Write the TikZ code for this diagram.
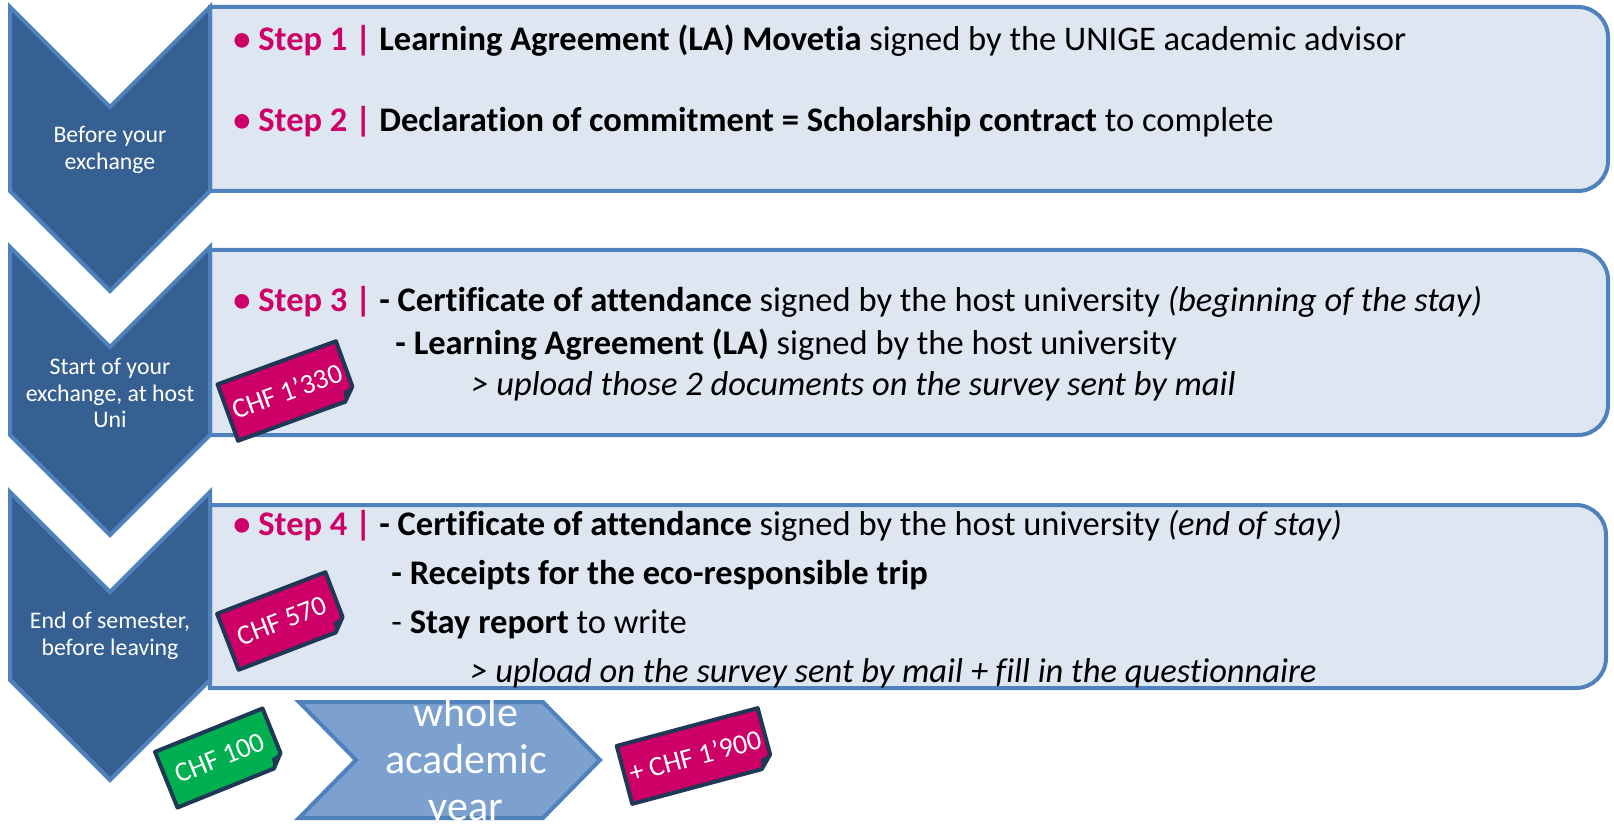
\documentclass[tikz,border=0pt]{standalone}
\usepackage{fontspec}
\setmainfont{Carlito}[Ligatures=NoCommon]

\definecolor{chevdark}{RGB}{54,96,146}
\definecolor{chevlight}{RGB}{124,161,206}
\definecolor{edgeblue}{RGB}{79,129,189}
\definecolor{boxfill}{RGB}{222,230,241}
\definecolor{steppink}{RGB}{204,0,102}
\definecolor{tagnavy}{RGB}{31,56,86}
\definecolor{taggreen}{RGB}{0,176,80}

\newcommand{\steplabel}[1]{\textcolor{steppink}{\textbf{• Step #1 |}}}

\begin{document}
\begin{tikzpicture}[x=0.5pt, y=-0.5pt,
  chevron/.style={fill=chevdark, draw=edgeblue, line width=2pt},
  stepbox/.style={fill=boxfill, draw=edgeblue, line width=2pt},
  phase/.style={text=white, align=center, inner sep=0pt, font=\fontsize{11.9}{13.3}\selectfont},
  textline/.style={anchor=base west, inner sep=0pt, font=\fontsize{17.25}{20}\selectfont},
  tagshape/.style={draw=tagnavy, line width=2pt, line join=round},
  tagtext/.style={text=white, inner sep=0pt, transform shape, font=\fontsize{14}{16}\selectfont}]
  \useasboundingbox (0,0) rectangle (1614,824);

  % step boxes, square on the left and rounded on the right
  \draw[stepbox] (210,7) -- (1578,7) arc[start angle=-90, end angle=0, radius=30]
    -- (1608,161) arc[start angle=0, end angle=90, radius=30] -- (210,191) -- cycle;
  \draw[stepbox] (210,250) -- (1578,250) arc[start angle=-90, end angle=0, radius=30]
    -- (1608,405) arc[start angle=0, end angle=90, radius=30] -- (210,435) -- cycle;
  \draw[stepbox] (210,505) -- (1576,505) arc[start angle=-90, end angle=0, radius=30]
    -- (1606,658) arc[start angle=0, end angle=90, radius=30] -- (210,688) -- cycle;

  % chevrons down the left
  \draw[chevron] (10,7) -- (110,107) -- (210,7) -- (210,191) -- (110,291) -- (10,191) -- cycle;
  \draw[chevron] (10,247) -- (110,347) -- (210,247) -- (210,435) -- (110,535) -- (10,435) -- cycle;
  \draw[chevron] (10,492) -- (110,592) -- (210,492) -- (210,680) -- (110,780) -- (10,680) -- cycle;
  \draw[chevron, fill=chevlight] (299,702) -- (543,702) -- (600,760) -- (543,818) -- (299,818) -- (356,760) -- cycle;

  \node[phase] (before) at (110,150) {Before your\\exchange};
  \node[phase] (start) at (110,393) {Start of your\\exchange, at host\\Uni};
  \node[phase] (endsem) at (110,636) {End of semester,\\before leaving};
  \node[phase, font=\fontsize{21}{23.5}\selectfont] (wholeyear) at (466,762) {whole\\academic\\year};

  \node[textline] (step1) at (233,51) {\steplabel{1} \textbf{Learning Agreement (LA) Movetia} signed by the UNIGE academic advisor};
  \node[textline] (step2) at (233,132) {\steplabel{2} \textbf{Declaration of commitment = Scholarship contract} to complete};
  \node[textline] (step3) at (233,312) {\steplabel{3} \textbf{- Certificate of attendance} signed by the host university \textit{(beginning of the stay)}};
  \node[textline] (step3la) at (395,354) {\textbf{- Learning Agreement (LA)} signed by the host university};
  \node[textline] (step3up) at (471,395) {\textit{> upload those 2 documents on the survey sent by mail}};
  \node[textline] (step4) at (233,535) {\steplabel{4} \textbf{- Certificate of attendance} signed by the host university \textit{(end of stay)}};
  \node[textline] (step4trip) at (391,584) {\textbf{- Receipts for the eco-responsible trip}};
  \node[textline] (step4report) at (391,633) {- \textbf{Stay report} to write};
  \node[textline] (step4up) at (470,682) {\textit{> upload on the survey sent by mail + fill in the questionnaire}};

  % price tags
  \begin{scope}[shift={(287,391)}, rotate=20]
    \draw[tagshape, fill=steppink] (-63,-30) -- (63,-30) -- (63,18) -- (51,30) -- (-63,30) -- cycle;
    \fill[tagnavy] (63,18) -- (53,20) -- (51,30) -- cycle;
    \node[tagtext] (chf1330) {CHF 1’330};
  \end{scope}
  \begin{scope}[shift={(282,621)}, rotate=21]
    \draw[tagshape, fill=steppink] (-58,-30) -- (58,-30) -- (58,18) -- (46,30) -- (-58,30) -- cycle;
    \fill[tagnavy] (58,18) -- (48,20) -- (46,30) -- cycle;
    \node[tagtext] (chf570) {CHF 570};
  \end{scope}
  \begin{scope}[shift={(220,758)}, rotate=22]
    \draw[tagshape, fill=taggreen] (-58,-30) -- (58,-30) -- (58,18) -- (46,30) -- (-58,30) -- cycle;
    \fill[tagnavy] (58,18) -- (48,20) -- (46,30) -- cycle;
    \node[tagtext] (chf100) {CHF 100};
  \end{scope}
  \begin{scope}[shift={(695,756)}, rotate=15]
    \draw[tagshape, fill=steppink] (-73,-30) -- (73,-30) -- (73,18) -- (61,30) -- (-73,30) -- cycle;
    \fill[tagnavy] (73,18) -- (63,20) -- (61,30) -- cycle;
    \node[tagtext] (chf1900) {+ CHF 1’900};
  \end{scope}
\end{tikzpicture}
\end{document}
